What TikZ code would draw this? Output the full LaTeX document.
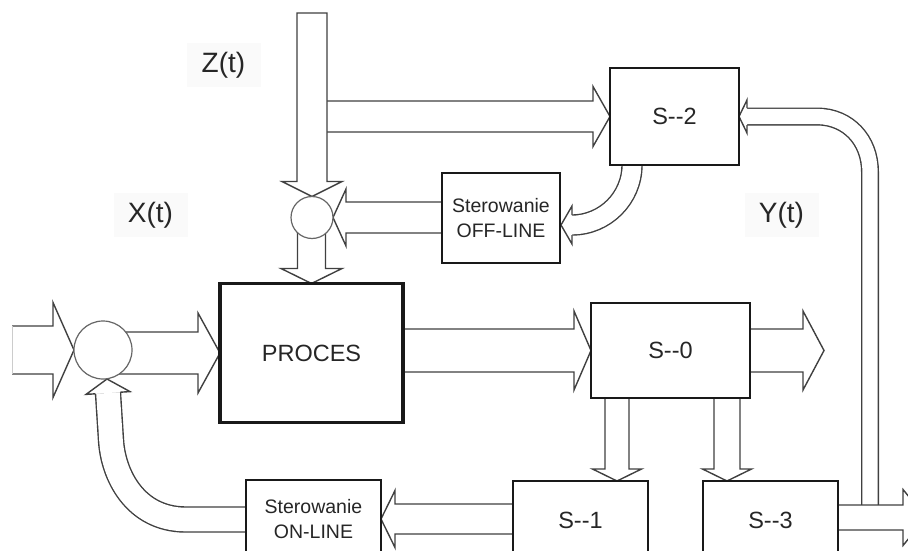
\documentclass[tikz,border=0pt]{standalone}
\usepackage{fontspec}
\setmainfont{Liberation Sans}
\usetikzlibrary{calc}
\pgfdeclarelayer{arrows}
\pgfsetlayers{arrows,main}
\newcommand\boxfont{\fontsize{23.5}{28}\selectfont}
\newcommand\stfont{\fontsize{19.5}{25}\selectfont}
\tikzset{
  blk/.style={draw=black!75, line width=1.4pt, fill=white, line join=miter, miter limit=20},
  tube/.style={draw=black!75, line width=1.4pt, double=white, line cap=butt},
  boxn/.style={rectangle, draw=black!90, line width=1.9pt, fill=white, inner sep=0pt, outer sep=0pt, text=black!85, font=\boxfont},
  stn/.style={boxn, font=\stfont, align=center},
  procn/.style={boxn, line width=3.2pt},
  circ/.style={circle, draw=black!60, line width=1.2pt, fill=white, inner sep=0pt, outer sep=0pt},
  lbl/.style={fill=black!2, inner sep=0pt, minimum width=74pt, minimum height=44pt, font=\fontsize{28}{32}\selectfont, text=black!85},
}
% horizontal block arrow: #1 start, #2 tip, #3 half shaft, #4 half head, #5 head base offset, #6 closing
\newcommand\harr[6]{\draw[blk] ($(#1|-#2)+(0,-#3)$) -- ($(#2)+(#5,-#3)$) -- ($(#2)+(#5,-#4)$) -- (#2) -- ($(#2)+(#5,#4)$) -- ($(#2)+(#5,#3)$) -- ($(#1|-#2)+(0,#3)$) #6;}
% vertical block arrow
\newcommand\varr[6]{\draw[blk] ($(#2|-#1)+(-#3,0)$) -- ($(#2)+(-#3,#5)$) -- ($(#2)+(-#4,#5)$) -- (#2) -- ($(#2)+(#4,#5)$) -- ($(#2)+(#3,#5)$) -- ($(#2|-#1)+(#3,0)$) #6;}
\begin{document}
\begin{tikzpicture}[x=1pt,y=-1pt]
\useasboundingbox (0,0) rectangle (908,551);

% boxes
\node[boxn, minimum width=129pt, minimum height=97pt] (s2) at (674.5,116.5) {S-{}-2};
\node[stn, minimum width=118pt, minimum height=90pt] (off) at (501,218) {Sterowanie\\OFF-LINE};
\node[procn, minimum width=183pt, minimum height=139pt] (proces) at (311.5,353) {PROCES};
\node[boxn, minimum width=159pt, minimum height=95pt] (s0) at (670.5,350.5) {S-{}-0};
\node[boxn, minimum width=135pt, minimum height=79pt] (s1) at (580.5,520.5) {S-{}-1};
\node[boxn, minimum width=135pt, minimum height=79pt] (s3) at (770.5,520.5) {S-{}-3};
\node[stn, minimum width=135pt, minimum height=78pt] (on) at (313.5,519) {Sterowanie\\ON-LINE};
\node[circ, minimum size=42pt] (c1) at (312,217.5) {};
\node[circ, minimum size=58pt] (c2) at (103,350) {};

% labels
\node[lbl] (zl) at (223.5,65.5) {Z(t)};
\node[lbl] (xl) at (150.5,215) {X(t)};
\node[lbl] (yl) at (781.5,215) {Y(t)};

% free ends
\coordinate (ztop) at (313,13);
\coordinate (xin) at (12,350);
\coordinate (sout) at (824,350.5);
\coordinate (t1) at ($(s1.north west)+(104,0)$);
\coordinate (t3) at ($(s3.north west)+(24,0)$);
\coordinate (yout) at (926,517.5);
\coordinate (ybot) at (870,506);
\coordinate (offtip) at (561,225);
\coordinate (c2tip) at (107,379);

\begin{pgfonlayer}{arrows}
\fill[white] (0,0) rectangle (908,551);
% input
\harr{xin}{c2.west}{24}{47.5}{-21}{}
\draw[black!20, line width=1pt] ($(xin)+(0,-24)$) -- ($(xin)+(0,24)$);
\harr{c2}{proces.west}{21}{40}{-22}{}
\harr{proces}{s0.west}{21.5}{39.5}{-17}{}
\harr{s0}{sout}{21.5}{39.5}{-21}{}
\varr{s0}{t1}{12}{24.5}{-12}{}
\varr{s0}{t3}{13}{24.5}{-12}{}
\harr{s1}{on.east}{15}{28.5}{14}{}
\harr{off}{c1.east}{15.5}{28.5}{13}{}
\harr{ztop}{s2.west}{15.5}{30}{-17}{}
\varr{ztop}{c1.north}{15}{30}{-15}{-- cycle}
\varr{c1}{proces.north}{14}{30.5}{-15}{}
% Y(t) feedback tube
\draw[tube, double distance=15.2pt] (ybot) -- (870,172) .. controls (870,140) and (848,117) .. (818,116.5) -- ($(s2.east)+(8,0)$);
\draw[blk] ($(s2.east)+(8,-8.5)$) -- ($(s2.east)+(8,-16.5)$) -- (s2.east) -- ($(s2.east)+(8,16.5)$) -- ($(s2.east)+(8,8.5)$);
\harr{s3}{yout}{12.5}{28}{-23}{}
% S-2 -> OFF-LINE
\draw[tube, double distance=18.6pt] ($(s2.south west)+(22,-5)$) -- ($(s2.south west)+(22,0)$) .. controls (632,198) and (605,225) .. ($(offtip)+(11,0)$);
\draw[blk] ($(offtip)+(11,-10)$) -- ($(offtip)+(11,-19)$) -- (offtip) -- ($(offtip)+(11,19)$) -- ($(offtip)+(11,10)$);
% ON-LINE -> circle
\draw[tube, double distance=23.6pt] ($(on.west)+(6,0.5)$) -- (185,519.5) .. controls (135,519) and (113,475) .. (111,440) -- (108,393);
\draw[blk] (120.5,392.2) -- (130,391.6) -- (c2tip) -- (86,394.4) -- (95.5,393.8);
\end{pgfonlayer}
\end{tikzpicture}
\end{document}
